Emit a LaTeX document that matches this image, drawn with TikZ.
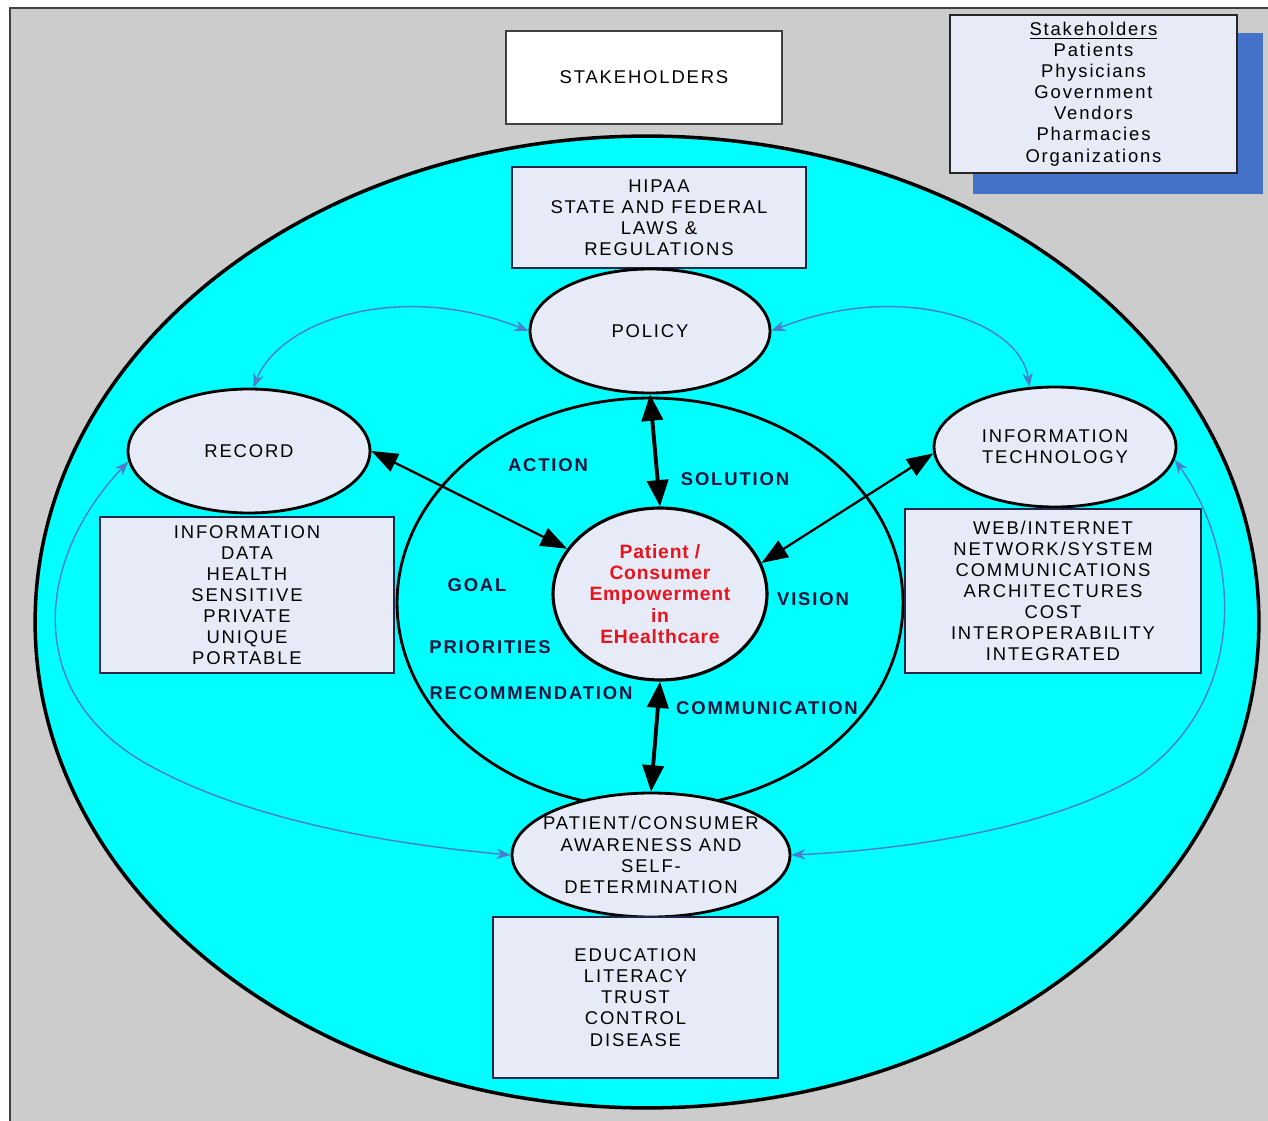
\documentclass[tikz,border=0pt]{standalone}
\usepackage{fontspec}
\usetikzlibrary{arrows.meta,shapes.geometric}
\newfontfamily\arialsp[LetterSpace=10]{Liberation Sans}
\newfontfamily\arialred[LetterSpace=4]{Liberation Sans}
\definecolor{bggray}{RGB}{204,204,204}
\definecolor{framegray}{RGB}{64,64,64}
\definecolor{cyanfill}{RGB}{0,255,255}
\definecolor{paleblue}{RGB}{231,235,247}
\definecolor{shadowblue}{RGB}{68,114,200}
\definecolor{curveblue}{RGB}{75,125,205}
\definecolor{labnavy}{RGB}{20,20,60}
\definecolor{boxline}{RGB}{30,40,70}
\definecolor{centerred}{RGB}{230,20,30}
\begin{document}
\begin{tikzpicture}[x=0.02cm,y=-0.02cm,
  txt/.style={font=\arialsp\fontsize{10.5}{12}\selectfont, align=center, text=black, inner sep=0pt},
  infobox/.style={rectangle, draw=boxline, line width=0.8pt, fill=paleblue, inner sep=0pt, txt},
  topic/.style={ellipse, draw=black, line width=1.6pt, fill=paleblue, inner sep=0pt, txt},
  lab/.style={font=\arialsp\bfseries\fontsize{10.5}{12}\selectfont, text=labnavy, inner sep=0pt},
  link/.style={draw=curveblue, line width=0.8pt, {Stealth[length=8pt,width=6pt]}-{Stealth[length=8pt,width=6pt]}},
  bigarrow/.style={draw=black, line width=2.2pt, {Triangle[length=15pt,width=12pt]}-{Triangle[length=15pt,width=12pt]}},
  diagarrow/.style={draw=black, line width=1.3pt, {Triangle[length=15pt,width=11pt]}-{Triangle[length=15pt,width=11pt]}}
]
\useasboundingbox (0,0) rectangle (1268,1121);
\clip (0,0) rectangle (1268,1121);
\fill[white] (0,0) rectangle (1268,1121);
\filldraw[fill=bggray, draw=framegray, line width=1pt] (10,8) rectangle (1300,1150);

% outer and inner ellipses
\node[ellipse, draw=black, line width=2pt, fill=cyanfill, minimum width=24.48cm, minimum height=19.44cm, inner sep=0pt] (outer) at (647,622) {};
\node[ellipse, draw=black, line width=1.6pt, minimum width=10.12cm, minimum height=8.2cm, inner sep=0pt] (inner) at (650,603) {};

% top boxes
\node[rectangle, draw=framegray, line width=0.8pt, fill=white, minimum width=5.52cm, minimum height=1.86cm, txt] (stake) at (644,77.5) {STAKEHOLDERS};
\fill[shadowblue] (973,33) rectangle (1263,194);
\node[infobox, draw=black!85, line width=1.2pt, minimum width=5.74cm, minimum height=3.16cm] (legend) at (1093.5,94) {\underline{Stakeholders}\\Patients\\Physicians\\Government\\Vendors\\Pharmacies\\Organizations};
\node[infobox, minimum width=5.88cm, minimum height=2.02cm] (hipaa) at (659,217.5) {HIPAA\\STATE AND FEDERAL\\LAWS \&\\REGULATIONS};

% topic ellipses
\node[topic, minimum width=4.8cm, minimum height=2.48cm] (policy) at (650,331) {POLICY};
\node[topic, minimum width=4.84cm, minimum height=2.48cm] (record) at (249,451) {RECORD};
\node[topic, minimum width=4.84cm, minimum height=2.4cm] (it) at (1055,447) {INFORMATION\\TECHNOLOGY};
\node[topic, minimum width=5.56cm, minimum height=2.48cm] (patient) at (651,855) {};
\node[txt] (patienttext) at (651,855) {PATIENT/CONSUMER\\AWARENESS AND\\SELF-\\DETERMINATION};

% side boxes
\node[infobox, minimum width=5.88cm, minimum height=3.12cm] (recbox) at (247,595) {INFORMATION\\DATA\\HEALTH\\SENSITIVE\\PRIVATE\\UNIQUE\\PORTABLE};
\node[infobox, minimum width=5.92cm, minimum height=3.28cm] (itbox) at (1053,591) {WEB/INTERNET\\NETWORK/SYSTEM\\COMMUNICATIONS\\ARCHITECTURES\\COST\\INTEROPERABILITY\\INTEGRATED};
\node[infobox, minimum width=5.7cm, minimum height=3.22cm] (edubox) at (635.5,997.5) {EDUCATION\\LITERACY\\TRUST\\CONTROL\\DISEASE};

% centre
\node[topic, line width=1.8pt, minimum width=4.28cm, minimum height=3.44cm, font=\arialred\bfseries\fontsize{11}{12.2}\selectfont, text=centerred] (center) at (660,594) {Patient /\\Consumer\\Empowerment\\in\\EHealthcare};

% labels
\node[lab] (action) at (548,465) {ACTION};
\node[lab] (solution) at (735,479) {SOLUTION};
\node[lab] (goal) at (477,585) {GOAL};
\node[lab] (vision) at (813,599) {VISION};
\node[lab] (priorities) at (490,647) {PRIORITIES};
\node[lab] (recommendation) at (531,693) {RECOMMENDATION};
\node[lab] (communication) at (767,708) {COMMUNICATION};

% blue curved links
\draw[link] (record.86) .. controls (280,320) and (400,280) .. (policy.west);
\draw[link] (policy.east) .. controls (900,280) and (1020,320) .. (it.113);
\coordinate (lbend) at (140,760);
\coordinate (rbend) at (1140,775);
\draw[link] (record.185) .. controls (35,560) and (25,690) .. (lbend) .. controls (245,822) and (400,845) .. (patient.west);
\draw[link] (it.-6) .. controls (1245,560) and (1245,700) .. (rbend) .. controls (1050,830) and (900,850) .. (patient.east);

% black arrows
\draw[bigarrow] (policy.south) -- (center.north);
\draw[bigarrow] (center.south) -- (patient.north);
\draw[diagarrow] (record.east) -- (center.154);
\draw[diagarrow] (it.183) -- (center.17);
\end{tikzpicture}
\end{document}
